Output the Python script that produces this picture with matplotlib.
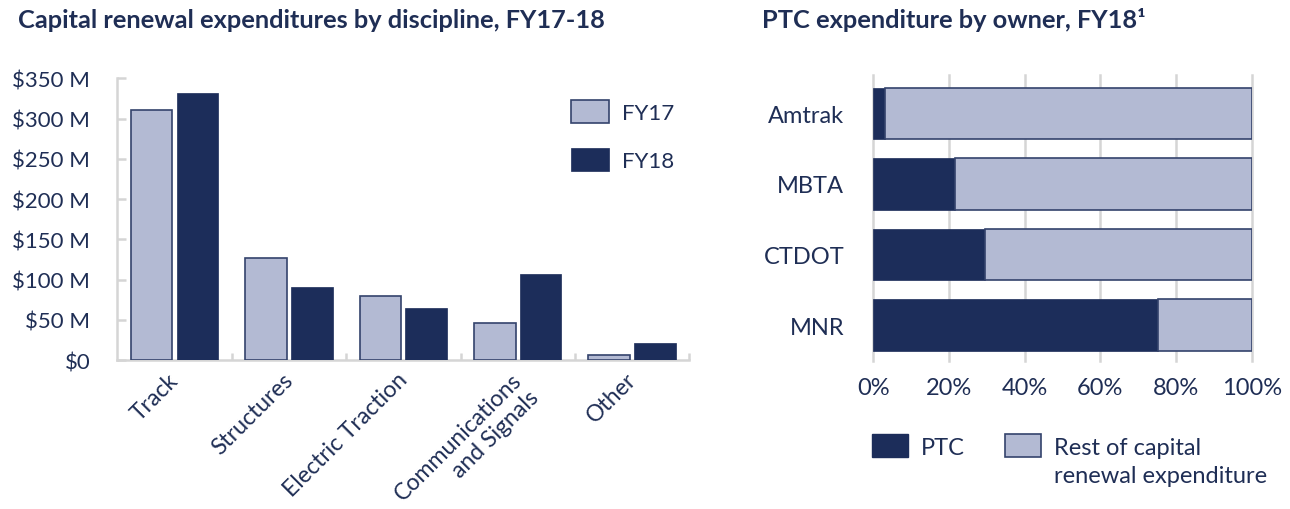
import matplotlib
matplotlib.use("Agg")
import matplotlib.pyplot as plt
from matplotlib.patches import Patch
from matplotlib.transforms import ScaledTranslation
import numpy as np

# ---------------- data ----------------
disciplines = ["Track", "Structures", "Electric Traction",
               "Communications\nand Signals", "Other"]
fy17 = [311, 127, 80, 46, 6]
fy18 = [332, 91, 65, 107, 21]
y_ticks = [0, 50, 100, 150, 200, 250, 300, 350]
y_labels = ["$0", "$50 M", "$100 M", "$150 M", "$200 M", "$250 M", "$300 M", "$350 M"]

owners = ["Amtrak", "MBTA", "CTDOT", "MNR"]
ptc_share = [3.1, 21.5, 29.4, 75.2]
rest_share = [100 - v for v in ptc_share]
pct_ticks = [0, 20, 40, 60, 80, 100]
pct_labels = ["0%", "20%", "40%", "60%", "80%", "100%"]

# ---------------- style ----------------
DARK = "#1c2d5a"
LIGHT = "#b3bad3"
EDGE = "#34436c"
TXT = "#1f2e55"
GRAY = "#d5d5d5"
FS_L = 16
FS_X = 16.6
FS_R = 17
plt.rcParams['font.family'] = ['Lato', 'DejaVu Sans']
plt.rcParams['text.color'] = TXT

fig = plt.figure(figsize=(12.9, 5.1), dpi=100)

# ---------------- left chart ----------------
ax1 = fig.add_axes([117.3 / 1290, 1 - 361 / 510, (689.3 - 117.3) / 1290, (361 - 79.3) / 510])
x = np.arange(len(disciplines))
w = 0.365
ax1.bar(x - 0.2, fy17, width=w, color=LIGHT, edgecolor=EDGE, linewidth=1.2, label="FY17", zorder=3)
ax1.bar(x + 0.2, fy18, width=w, color=DARK, edgecolor=DARK, linewidth=0.5, label="FY18", zorder=3)
ax1.set_xlim(-0.5, len(disciplines) - 0.5)
ax1.set_ylim(0, 350)
for s in ["top", "right"]:
    ax1.spines[s].set_visible(False)
for s in ["left", "bottom"]:
    ax1.spines[s].set_color(GRAY)
    ax1.spines[s].set_linewidth(1.8)
ax1.set_yticks(y_ticks)
ax1.set_yticklabels(y_labels)
ax1.tick_params(axis="y", direction="in", length=6.5, width=1.8, color=GRAY,
                labelsize=FS_L, labelcolor=TXT, pad=19.5)
ax1.set_xticks(x)
ax1.set_xticklabels(disciplines, rotation=45, ha="right", va="top",
                    rotation_mode="anchor", multialignment="right")
ax1.tick_params(axis="x", which="major", length=0, labelsize=FS_X, labelcolor=TXT, pad=7)
shift = ScaledTranslation(-7 / 100, 1 / 100, fig.dpi_scale_trans)
for lbl in ax1.get_xticklabels():
    lbl.set_transform(lbl.get_transform() + shift)
ax1.set_xticks(np.arange(len(disciplines)) + 0.5, minor=True)
ax1.tick_params(axis="x", which="minor", direction="in", length=5, width=1.8, color=GRAY)
ax1.legend(loc="upper left", bbox_to_anchor=(571 / 1290, 1 - 101 / 510),
           bbox_transform=fig.transFigure, frameon=False, fontsize=FS_L,
           handlelength=1.71, handleheight=1.2, handletextpad=0.59,
           labelspacing=1.15, borderpad=0, borderaxespad=0, labelcolor=TXT)

# ---------------- right chart ----------------
ax2 = fig.add_axes([873.3 / 1290, 1 - 362 / 510, (1251.7 - 873.3) / 1290, (362 - 76) / 510])
yy = np.arange(len(owners))
h = 0.727
ax2.barh(yy, ptc_share, height=h, color=DARK, edgecolor=DARK, linewidth=0.5, zorder=3)
ax2.barh(yy, rest_share, left=ptc_share, height=h, color=LIGHT, edgecolor=EDGE,
         linewidth=1.2, zorder=3)
ax2.set_xlim(0, 100)
ax2.set_ylim(3.51, -0.5425)
for s in ax2.spines.values():
    s.set_visible(False)
ax2.set_xticks(pct_ticks)
ax2.set_xticklabels(pct_labels)
ax2.set_yticks(yy)
ax2.set_yticklabels(owners)
ax2.tick_params(axis="x", length=0, labelsize=FS_R, labelcolor=TXT, pad=11.5)
ax2.tick_params(axis="y", length=0, labelsize=FS_R, labelcolor=TXT, pad=21)
ax2.grid(axis="x", color=GRAY, linewidth=1.8, zorder=0)
ax2.set_axisbelow(True)
for gl in ax2.get_xgridlines():
    gl.set_clip_on(False)

blank = Patch(facecolor="none", edgecolor="none")
h_ptc = Patch(facecolor=DARK, edgecolor=DARK)
h_rest = Patch(facecolor=LIGHT, edgecolor=EDGE, linewidth=1.2)
fig.legend(handles=[h_ptc, blank, h_rest, blank],
           labels=["PTC", "", "Rest of capital", "renewal expenditure"],
           ncol=2, loc="upper left", bbox_to_anchor=(872 / 1290, 1 - 435 / 510),
           frameon=False, fontsize=FS_R, handlelength=1.53, handleheight=1.12,
           handletextpad=0.55, columnspacing=1.7, labelspacing=0.2,
           borderpad=0, borderaxespad=0, labelcolor=TXT)

# ---------------- titles ----------------
fig.text(18 / 1290, 1 - 20 / 510, "Capital renewal expenditures by discipline, FY17-18",
         fontsize=18.3, fontweight="bold", color=TXT, va="center", ha="left")
fig.text(762 / 1290, 1 - 20 / 510, "PTC expenditure by owner, FY18\u00b9",
         fontsize=18.3, fontweight="bold", color=TXT, va="center", ha="left")

fig.savefig("out.png", dpi=100)
